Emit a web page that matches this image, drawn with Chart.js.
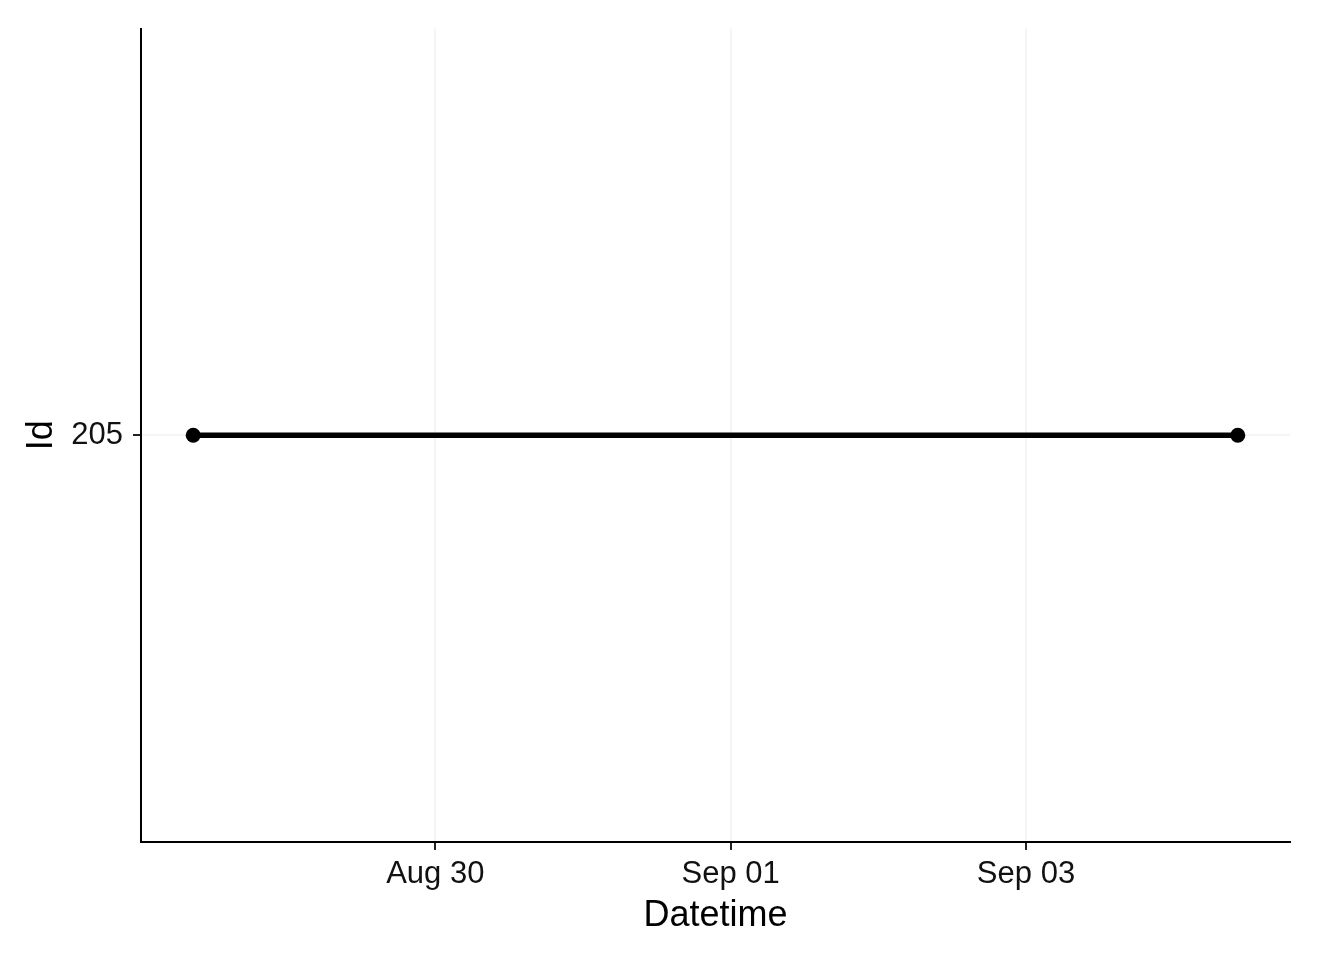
<!DOCTYPE html>
<html>
<head>
<meta charset="utf-8">
<script src="https://cdn.jsdelivr.net/npm/chart.js@4"></script>
<style>
  body { margin: 0; background: #fff; }
  canvas { display: block; }
</style>
</head>
<body>
<canvas id="chart1" width="1344" height="960"></canvas>
<script>
    // data
    let times = ['2016-08-28T08:40:00Z', '2016-09-04T10:25:00Z'];
    let ids = [205, 205];
    let xTickDates = ['2016-08-30T00:00:00Z', '2016-09-01T00:00:00Z', '2016-09-03T00:00:00Z'];
    let xTickLabels = ['Aug 30', 'Sep 01', 'Sep 03'];
    let yTicks = [205];

    let xs = times.map(t => Date.parse(t));
    let xTicks = xTickDates.map(t => Date.parse(t));
    let span = Math.max(...xs) - Math.min(...xs);
    let xMin = Math.min(...xs) - span * 0.05;
    let xMax = Math.max(...xs) + span * 0.05;

    let fontFam = "'Liberation Sans', Arial, Helvetica, sans-serif";

    let chart1 = document.getElementById('chart1').getContext('2d');

    let idChart = new Chart(chart1, {
    type:'line',
    data:{
    datasets:[{
    data: xs.map((x, i) => ({x: x, y: ids[i]})),
    borderColor:'#000',
    backgroundColor:'#000',
    borderWidth:5.5,
    pointRadius:7.5,
    pointHoverRadius:7.5,
    pointBorderWidth:0,
    fill:false
}]
},
    options:{
    responsive:false,
    animation:false,
    events:[],
    layout:{
    padding:{left:0, right:54, top:23, bottom:0}
},
    plugins:{
    legend:{display:false},
    tooltip:{enabled:false}
},
    scales:{
    x:{
    type:'linear',
    min:xMin,
    max:xMax,
    afterBuildTicks: s => { s.ticks = xTicks.map(v => ({value: v})); },
    afterFit: s => { s.height = 118; },
    grid:{color:'#f5f5f5', lineWidth:2, tickLength:8, tickColor:'#222', tickWidth:2},
    border:{color:'#000', width:2},
    ticks:{
    padding:6,
    color:'#111',
    font:{family:fontFam, size:31},
    maxRotation:0,
    callback: (v) => xTickLabels[xTicks.indexOf(v)]
},
    title:{
    display:true,
    text:'Datetime',
    color:'#000',
    font:{family:fontFam, size:36},
    padding:{top:0, bottom:22}
}
},
    y:{
    type:'linear',
    min:204,
    max:206,
    afterBuildTicks: s => { s.ticks = yTicks.map(v => ({value: v})); },
    afterFit: s => { s.width = 141; },
    grid:{color:'#f5f5f5', lineWidth:2, tickLength:8, tickColor:'#222', tickWidth:2},
    border:{color:'#000', width:2},
    ticks:{
    padding:10,
    color:'#111',
    font:{family:fontFam, size:31}
},
    title:{
    display:true,
    text:'Id',
    color:'#000',
    font:{family:fontFam, size:36},
    padding:{top:20, bottom:0}
}
}
}
}
});
</script>
</body>
</html>
